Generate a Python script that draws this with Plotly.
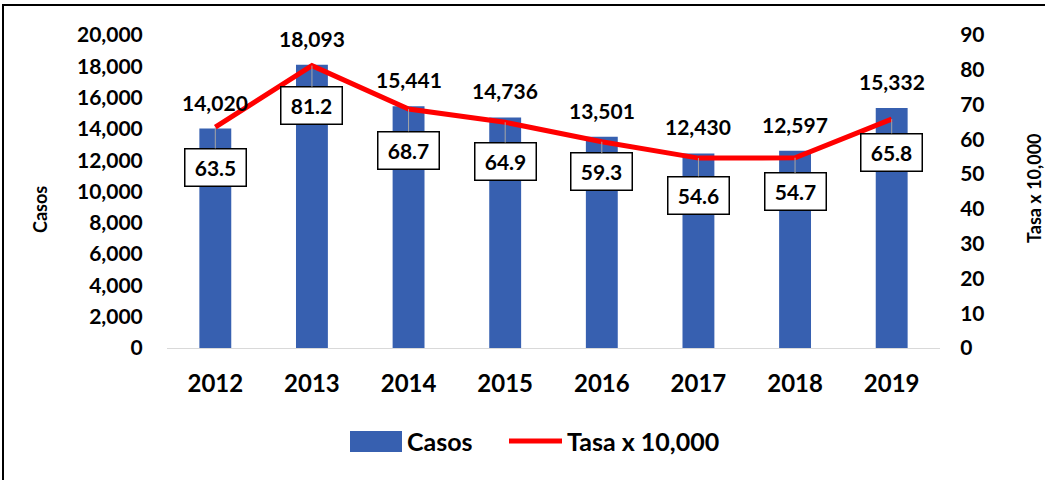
import plotly.graph_objects as go

years = ["2012", "2013", "2014", "2015", "2016", "2017", "2018", "2019"]
casos = [14020, 18093, 15441, 14736, 13501, 12430, 12597, 15332]
tasa = [63.5, 81.2, 68.7, 64.9, 59.3, 54.6, 54.7, 65.8]
left_ticks = [0, 2000, 4000, 6000, 8000, 10000, 12000, 14000, 16000, 18000, 20000]
right_ticks = [0, 10, 20, 30, 40, 50, 60, 70, 80, 90]
box_offsets = [40, 40, 41, 39, 30, 37, 34, 33]

FONT = "Lato"
BLUE = "#3760b0"
RED = "#ff0000"

FW, FH = 1045, 480
# plot area in page pixels: x 167..940, y 35..348
L, R, T, B = 167, 940, 35, 348
W, H = R - L, B - T


def px(x):
    return (x - L) / W


def py(y):
    return (B - y) / H


fig = go.Figure()
fig.add_trace(go.Bar(
    x=years, y=casos, name="Casos", width=0.33,
    marker=dict(color=BLUE, line=dict(width=0)),
    yaxis="y", showlegend=False,
))
fig.add_trace(go.Scatter(
    x=years, y=tasa, name="Tasa x 10,000", mode="lines",
    line=dict(color=RED, width=5), yaxis="y2", showlegend=False,
))

ann = []
for i, c in enumerate(casos):
    ann.append(dict(x=i, y=c, xref="x", yref="y", text=f"{c:,}", showarrow=False,
                    yanchor="bottom", yshift=12,
                    font=dict(family=FONT, size=21, color="black", weight="bold")))
for i, (t, off) in enumerate(zip(tasa, box_offsets)):
    ann.append(dict(x=i, y=t, xref="x", yref="y2", text=f"{t:.1f}", showarrow=True,
                    arrowhead=0, arrowwidth=1, arrowcolor="#a6a6a6", ax=0, ay=off,
                    bgcolor="white", bordercolor="black", borderwidth=1.5,
                    width=54, height=30, borderpad=3,
                    font=dict(family=FONT, size=21, color="black", weight="bold")))
ann.append(dict(x=px(40), y=py(210), xref="paper", yref="paper", text="Casos", textangle=-90,
                xanchor="center", yanchor="middle",
                showarrow=False, font=dict(family=FONT, size=18, color="black", weight="bold")))
ann.append(dict(x=px(1034), y=py(188), xref="paper", yref="paper", text="Tasa x 10,000",
                textangle=-90, xanchor="center", yanchor="middle", showarrow=False,
                font=dict(family=FONT, size=18, color="black", weight="bold")))
# legend texts
ann.append(dict(x=px(405), y=py(441), xref="paper", yref="paper", text="Casos",
                xanchor="left", yanchor="middle",
                showarrow=False, font=dict(family=FONT, size=25, color="black", weight="bold")))
ann.append(dict(x=px(565), y=py(441), xref="paper", yref="paper", text="Tasa x 10,000",
                xanchor="left", yanchor="middle", showarrow=False,
                font=dict(family=FONT, size=25, color="black", weight="bold")))

shapes = [
    dict(type="rect", xref="paper", yref="paper",
         x0=px(3), x1=px(1060), y0=py(500), y1=py(5),
         line=dict(color="black", width=2), fillcolor="rgba(0,0,0,0)", layer="below"),
    dict(type="rect", xref="paper", yref="paper",
         x0=px(350), x1=px(402), y0=py(452), y1=py(431),
         line=dict(width=0), fillcolor=BLUE),
    dict(type="line", xref="paper", yref="paper",
         x0=px(509), x1=px(562), y0=py(441), y1=py(441),
         line=dict(color=RED, width=5)),
]

fig.update_layout(
    width=FW, height=FH,
    margin=dict(l=L, r=FW - R, t=T, b=FH - B),
    paper_bgcolor="white", plot_bgcolor="white",
    showlegend=False,
    xaxis=dict(type="category", range=[-0.5, len(years) - 0.5], showline=True,
               linecolor="#d9d9d9", linewidth=1,
               showgrid=False, ticks="outside", ticklen=14, tickcolor="rgba(0,0,0,0)",
               tickfont=dict(family=FONT, size=24, color="black", weight="bold")),
    yaxis=dict(range=[0, 20000], tickvals=left_ticks, tickformat=",", showgrid=False,
               zeroline=False, ticks="outside", ticklen=19, tickcolor="rgba(0,0,0,0)",
               tickfont=dict(family=FONT, size=21, color="black", weight="bold")),
    yaxis2=dict(range=[0, 90], tickvals=right_ticks, overlaying="y", side="right",
                showgrid=False, zeroline=False, ticks="outside", ticklen=15,
                tickcolor="rgba(0,0,0,0)",
                tickfont=dict(family=FONT, size=21, color="black", weight="bold")),
    annotations=ann,
    shapes=shapes,
)
fig.write_html("out.html", config={"displayModeBar": False},
               post_script="document.body.style.margin='0px';")
